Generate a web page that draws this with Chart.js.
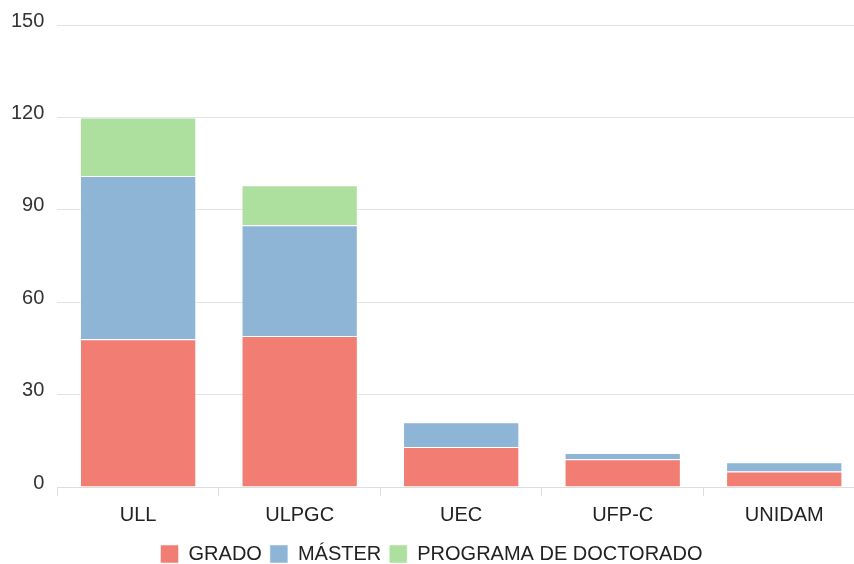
<!DOCTYPE html>
<html>
<head>
<meta charset="utf-8">
<script src="https://cdn.jsdelivr.net/npm/chart.js@4"></script>
<style>
  html, body { margin: 0; padding: 0; background: #fff; overflow: hidden; }
  #wrap { width: 854px; height: 564px; overflow: hidden; }
</style>
</head>
<body>
<div id="wrap"><canvas id="chart" width="866" height="574"></canvas></div>
<script>
const universidades = ["ULL", "ULPGC", "UEC", "UFP-C", "UNIDAM"];
const grado = [48, 49, 13, 9, 5];
const master = [53, 36, 8, 2, 3];
const doctorado = [19, 13, 0, 0, 0];
const yTicks = [0, 30, 60, 90, 120, 150];

Chart.defaults.font.family = "'Liberation Sans', Arial, sans-serif";
Chart.defaults.font.size = 20;
Chart.defaults.color = "#333";

new Chart(document.getElementById("chart"), {
  type: "bar",
  data: {
    labels: universidades,
    datasets: [
      { label: "GRADO", data: grado, backgroundColor: "#f27d72", borderColor: "rgba(255,255,255,0.5)", borderWidth: 1 },
      { label: "MÁSTER", data: master, backgroundColor: "#8eb4d6", borderColor: "rgba(255,255,255,0.5)", borderWidth: 1 },
      { label: "PROGRAMA DE DOCTORADO", data: doctorado, backgroundColor: "#addf9f", borderColor: "rgba(255,255,255,0.5)", borderWidth: 1 },
    ],
  },
  options: {
    responsive: false,
    animation: false,
    layout: { padding: { top: 14, right: 1, left: -2, bottom: 0 } },
    plugins: {
      legend: {
        position: "bottom",
        labels: { boxWidth: 18, boxHeight: 18, padding: 8, color: "#222" },
      },
      tooltip: { enabled: false },
    },
    scales: {
      x: {
        stacked: true,
        grid: { drawOnChartArea: false, drawTicks: true, tickLength: 9, color: "#ddd" },
        border: { color: "#ddd" },
        ticks: { color: "#222", padding: 7 },
        afterFit: scale => { scale.height += 2; },
      },
      y: {
        stacked: true,
        min: 0,
        max: 150,
        afterBuildTicks: axis => { axis.ticks = yTicks.map(v => ({ value: v })); },
        grid: { color: "#e3e3e3", drawTicks: false },
        border: { display: false },
        ticks: { padding: 13, color: "#333", labelOffset: -4 },
      },
    },
  },
});
</script>
</body>
</html>
